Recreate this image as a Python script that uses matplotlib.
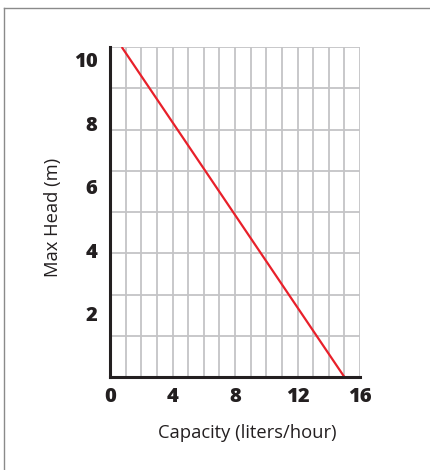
import matplotlib
matplotlib.use("Agg")
import matplotlib.pyplot as plt
from matplotlib.lines import Line2D
import numpy as np

# Data
capacity = [0.75, 15.0]        # liters/hour
max_head = [10.4, 0.0]         # m
x_ticks = [0, 4, 8, 12, 16]
y_ticks = [2, 4, 6, 8, 10]
x_max = 16
y_max = 10.4
n_hgrid = 8

fig = plt.figure(figsize=(4.3, 4.7), dpi=100)
fig.patch.set_facecolor("white")

# outer frame
fig.add_artist(Line2D([4/430, 4/430], [0, 1 - 8/470], color="#8a8a8a", lw=1.0, transform=fig.transFigure))
fig.add_artist(Line2D([4/430, 1.0], [1 - 8/470, 1 - 8/470], color="#8a8a8a", lw=1.0, transform=fig.transFigure))

ax = fig.add_axes([110/430, 93/470, 250/430, 330/470])
ax.set_xlim(0, x_max)
ax.set_ylim(0, y_max)

# grid
for xv in np.arange(1, x_max + 1):
    ax.axvline(xv, color="#c4c4c6", lw=1.3, zorder=1)
for yv in np.linspace(0, y_max, n_hgrid + 1)[1:]:
    ax.axhline(yv, color="#c4c4c6", lw=1.3, zorder=1)

ax.plot(capacity, max_head, color="#e8202a", lw=1.6, zorder=3, solid_capstyle="butt")

for s in ["top", "right"]:
    ax.spines[s].set_visible(False)
for s in ["left", "bottom"]:
    ax.spines[s].set_linewidth(2.2)
    ax.spines[s].set_color("#231f20")
    ax.spines[s].set_zorder(4)

tick_font = dict(family="Open Sans", weight="heavy", size=14.5)
ax.set_xticks(x_ticks)
ax.set_yticks(y_ticks)
ax.set_xticklabels([str(v) for v in x_ticks], fontdict=tick_font, color="#231f20")
ax.set_yticklabels([str(v) for v in y_ticks], fontdict=tick_font, color="#231f20")
ax.tick_params(axis="both", length=0)
ax.tick_params(axis="x", pad=7)
ax.tick_params(axis="y", pad=9)

fig.text(247/430, 1 - 433/470, "Capacity (liters/hour)", ha="center", va="center",
         fontfamily="Open Sans", fontsize=13.2, color="#231f20")
fig.text(53/430, 1 - 217/470, "Max Head (m)", ha="center", va="center", rotation=90,
         fontfamily="Open Sans", fontsize=13.2, color="#231f20")

fig.savefig("out.png", dpi=100)
